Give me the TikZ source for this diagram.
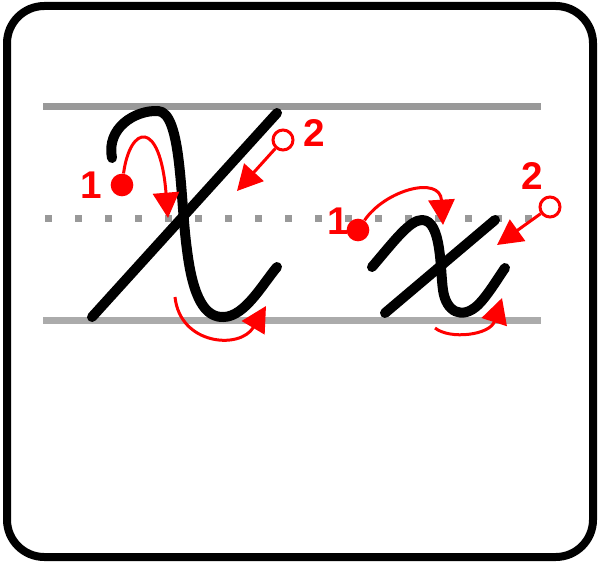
\documentclass[tikz,border=0pt]{standalone}
\usepackage{fontspec}
\setmainfont{Liberation Sans}
\usetikzlibrary{arrows.meta}
\definecolor{GuideDark}{HTML}{999999}
\definecolor{GuideLight}{HTML}{ABABAB}
\definecolor{HintRed}{HTML}{FF0000}

\begin{document}
\begin{tikzpicture}[
    x=0.75pt, y=-0.75pt,
    pen/.style={
      line width=7.5pt,
      line cap=round,
      line join=round
    },
    guide/.style={
      draw=#1,
      line width=5.25pt
    },
    hint/.style={
      draw=HintRed,
      line width=2.25pt,
      -{Triangle[length=19pt,width=19.5pt]}
    },
    startdot/.style={
      circle,
      fill=HintRed,
      inner sep=0pt,
      minimum size=17pt
    },
    enddot/.style={
      circle,
      draw=HintRed,
      fill=white,
      line width=2.25pt,
      inner sep=0pt,
      minimum size=15pt
    },
    num/.style={
      font=\fontsize{29}{29}\selectfont\bfseries,
      text=HintRed,
      inner sep=0pt
    }
  ]
  \useasboundingbox (0,0) rectangle (598,563);

  % frame
  \draw[line width=6pt, rounded corners=28pt] (7,6) rectangle (593,557);

  % writing lines
  \draw[guide=GuideDark] (43,107) -- (541,107);
  \draw[guide=GuideLight] (43,320) -- (541,320);
  \draw[guide=GuideDark, dash pattern=on 5.25pt off 17.25pt] (45,218) -- (541,218);

  % capital X
  \draw[pen] (112,158) .. controls (106,128) and (135,110) .. (158,111)
    .. controls (182,112) and (180,200) .. (187,250)
    .. controls (193,298) and (205,318) .. (224,317)
    .. controls (245,316) and (262,285) .. (277,267);
  \draw[pen] (92,317) -- (277,113);

  \node[startdot] (capA) at (122,185) {};
  \node[num] (capAnum) at (91,185) {1};
  \coordinate (capAtip) at (168,218);
  \draw[hint] (capA) .. controls (130,125) and (160,118) .. (capAtip);

  \node[enddot] (capB) at (283,140) {};
  \node[num] (capBnum) at (314,133) {2};
  \coordinate (capBtip) at (237,191);
  \draw[hint] (capB) -- (capBtip);

  \coordinate (capCstart) at (175,297);
  \coordinate (capCtip) at (266,306);
  \draw[hint] (capCstart) .. controls (180,345) and (240,350) .. (capCtip);

  % small x
  \draw[pen] (372,267) .. controls (395,240) and (410,220) .. (422,220)
    .. controls (442,220) and (440,270) .. (443,290)
    .. controls (446,312) and (462,320) .. (478,305)
    .. controls (488,295) and (498,278) .. (505,268);
  \draw[pen] (385,313) -- (495,220);

  \node[startdot] (smlA) at (358,230) {};
  \node[num] (smlAnum) at (338,221) {1};
  \coordinate (smlAtip) at (443,225);
  \draw[hint] (smlA) .. controls (385,190) and (440,175) .. (smlAtip);

  \node[enddot] (smlB) at (550,207) {};
  \node[num] (smlBnum) at (532,176) {2};
  \coordinate (smlBtip) at (497,245);
  \draw[hint] (smlB) -- (smlBtip);

  \coordinate (smlCstart) at (435,328);
  \coordinate (smlCtip) at (502,298);
  \draw[hint] (smlCstart) .. controls (450,340) and (490,335) .. (smlCtip);

\end{tikzpicture}
\end{document}
